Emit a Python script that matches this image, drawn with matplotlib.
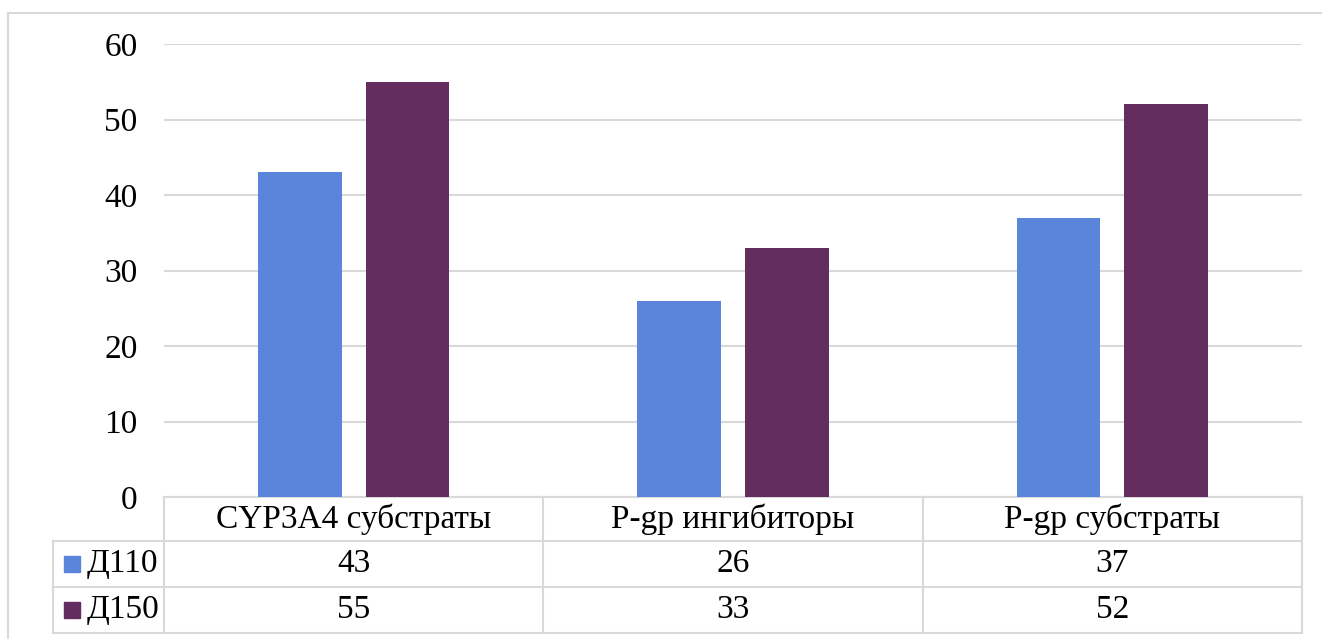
import matplotlib
matplotlib.use("Agg")
import matplotlib.pyplot as plt
import matplotlib.transforms as mtransforms
from matplotlib.lines import Line2D
import numpy as np

categories = ["CYP3A4 субстраты", "P-gp ингибиторы", "P-gp субстраты"]
series_names = ["Д110", "Д150"]
d110 = [43, 26, 37]
d150 = [55, 33, 52]
yticks = [0, 10, 20, 30, 40, 50, 60]

colors = ["#5B84DB", "#642D60"]
grid_color = "#D9D9D9"
fs = 24

plt.rcParams["font.family"] = ["Liberation Serif", "DejaVu Serif"]

fig = plt.figure(figsize=(13.22, 6.39), dpi=100)
ax = fig.add_axes([164 / 1322, 142 / 639, 1138 / 1322, 453 / 639])

x = np.arange(len(categories))
w = 0.221
gap = 0.063
off = (w + gap) / 2
ax.bar(x - off, d110, width=w, color=colors[0], zorder=3)
ax.bar(x + off, d150, width=w, color=colors[1], zorder=3)

ax.set_xlim(-0.5, len(categories) - 0.5)
ax.set_ylim(0, 60)
ax.set_yticks(yticks)
ax.set_xticks([])
ax.tick_params(axis="y", length=0, labelsize=fs, pad=19)
for s in ax.spines.values():
    s.set_visible(False)
ax.yaxis.grid(True, color=grid_color, linewidth=1.5, zorder=0)

# data table under the plot
px = 1138 / 3  # pixels per category
trans = mtransforms.blended_transform_factory(ax.transData, ax.transAxes)
row_y = [0, -44 / 453, -90 / 453, -136 / 453]
left_x = -0.5 - 111 / px
lk = dict(color=grid_color, linewidth=1.5, transform=trans, clip_on=False)

# horizontal lines
ax.add_line(Line2D([-0.5, 2.5], [row_y[0], row_y[0]], **lk))
for yy in row_y[1:]:
    ax.add_line(Line2D([left_x, 2.5], [yy, yy], **lk))
# vertical lines
ax.add_line(Line2D([left_x, left_x], [row_y[1], row_y[3]], **lk))
for xx in [-0.5, 0.5, 1.5, 2.5]:
    ax.add_line(Line2D([xx, xx], [row_y[0], row_y[3]], **lk))

for i, c in enumerate(categories):
    ax.text(i, (row_y[0] + row_y[1]) / 2, c, transform=trans, ha="center",
            va="center", fontsize=fs)

for r, (name, vals) in enumerate(zip(series_names, [d110, d150])):
    yc = (row_y[r + 1] + row_y[r + 2]) / 2
    ax.text(left_x + 34 / px, yc, name, transform=trans, ha="left",
            va="center", fontsize=fs)
    ax.plot([left_x + 19 / px], [yc], marker="s", markersize=11.5,
            color=colors[r], transform=trans, clip_on=False, linestyle="none")
    for i, v in enumerate(vals):
        ax.text(i, yc, str(v), transform=trans, ha="center", va="center",
                fontsize=fs)

# outer chart border (top and left visible)
fig.add_artist(Line2D([8 / 1322, 8 / 1322], [0, 1 - 13 / 639],
                      color=grid_color, linewidth=1.5, transform=fig.transFigure))
fig.add_artist(Line2D([8 / 1322, 1], [1 - 13 / 639, 1 - 13 / 639],
                      color=grid_color, linewidth=1.5, transform=fig.transFigure))

fig.savefig("out.png", dpi=100)
